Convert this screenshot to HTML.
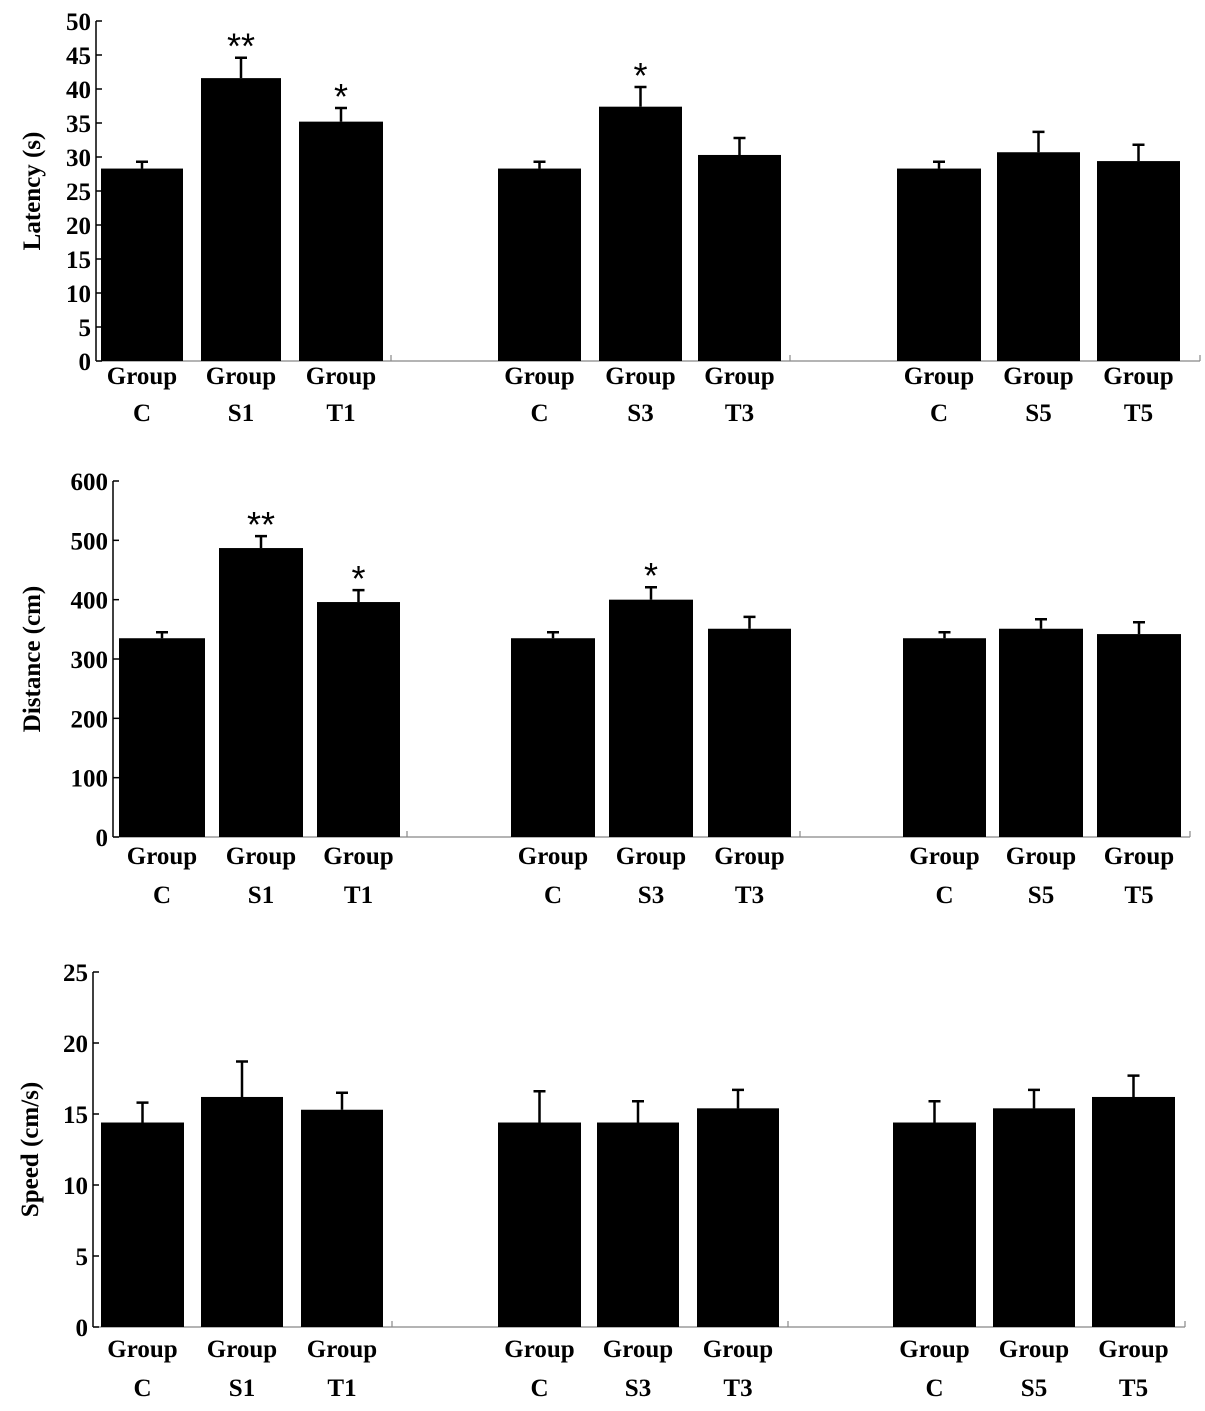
<!DOCTYPE html>
<html><head><meta charset="utf-8"><style>
body{margin:0;background:#fff;}
svg text{font-family:"Liberation Serif",serif;font-weight:bold;fill:#000;}
svg text.star{font-family:"Liberation Sans",sans-serif;font-weight:normal;}
</style></head><body>
<svg id="chart" width="1205" height="1406" viewBox="0 0 1205 1406" xmlns="http://www.w3.org/2000/svg"></svg>
<script>
const categories = ["C","S1","T1","C","S3","T3","C","S5","T5"];
const latencyValues = [28.3,41.6,35.2,28.3,37.4,30.3,28.3,30.7,29.4];
const latencyErrors = [1.0,3.0,2.0,1.0,2.9,2.5,1.0,3.0,2.4];
const distanceValues = [335,487,396,335,400,351,335,351,342];
const distanceErrors = [10,20,20,10,21,20,10,16,20];
const speedValues = [14.4,16.2,15.3,14.4,14.4,15.4,14.4,15.4,16.2];
const speedErrors = [1.4,2.5,1.2,2.2,1.5,1.3,1.5,1.3,1.5];
const latencyStars = ["","**","*","","*","","","",""];
const distanceStars = ["","**","*","","*","","","",""];
const speedStars = ["","","","","","","","",""];
const latencyTicks = [0,5,10,15,20,25,30,35,40,45,50];
const distanceTicks = [0,100,200,300,400,500,600];
const speedTicks = [0,5,10,15,20,25];

const svg = document.getElementById('chart');
const NS = "http://www.w3.org/2000/svg";
function mk(tag, attrs){const e=document.createElementNS(NS,tag);for(const k in attrs)e.setAttribute(k,attrs[k]);svg.appendChild(e);return e;}

const panels = [
 {name:"latency", vals:latencyValues, errs:latencyErrors, stars:latencyStars, ticks:latencyTicks, max:50, title:"Latency (s)",
  ax:96, y0:361, yTop:21, xEnd:1200, titleX:32,
  bars:[[101,183],[201,281],[299,383],[498,581],[599,682],[698,781],[897,981],[997,1080],[1097,1180]], sep:[391,790], lab1:384, lab2:421},
 {name:"distance", vals:distanceValues, errs:distanceErrors, stars:distanceStars, ticks:distanceTicks, max:600, title:"Distance (cm)",
  ax:113, y0:837, yTop:481, xEnd:1190, titleX:32,
  bars:[[119,205],[219,303],[317,400],[511,595],[609,693],[708,791],[903,986],[999,1083],[1097,1181]], sep:[407,800], lab1:864, lab2:903},
 {name:"speed", vals:speedValues, errs:speedErrors, stars:speedStars, ticks:speedTicks, max:25, title:"Speed (cm/s)",
  ax:93, y0:1327, yTop:972, xEnd:1185, titleX:30,
  bars:[[101,184],[201,283],[301,383],[498,581],[597,679],[697,779],[893,976],[993,1075],[1092,1175]], sep:[392,788], lab1:1357, lab2:1396}
];

panels.forEach(p=>{
  const y = v => p.y0 - (v/p.max)*(p.y0-p.yTop);
  let a = mk('line',{x1:p.ax,y1:p.yTop,x2:p.ax,y2:p.y0,stroke:'#000','stroke-width':1.5});
  
  
  a = mk('line',{x1:p.ax,y1:p.y0,x2:p.xEnd,y2:p.y0,stroke:'#888','stroke-width':1.2});
  
  
  p.sep.concat([p.xEnd]).forEach(sx=>{
    const t=mk('line',{x1:sx,y1:p.y0,x2:sx,y2:p.y0-6,stroke:'#888','stroke-width':1.2});
    
    
  });
  p.ticks.forEach(tv=>{
    const ty=y(tv);
    const l=mk('line',{x1:p.ax,y1:ty,x2:p.ax+6,y2:ty,stroke:'#000','stroke-width':1.5});
    
    
    const t=mk('text',{x:p.ax-5,y:ty+9,'text-anchor':'end','font-size':25});
    t.textContent=tv;
    
    
  });
  const tt=mk('text',{x:p.titleX,y:(p.y0+p.yTop)/2,'text-anchor':'middle','font-size':25,transform:`rotate(-90 ${p.titleX} ${(p.y0+p.yTop)/2})`,dy:8});
  tt.textContent=p.title;
  
  
  p.vals.forEach((v,i)=>{
    const [x1,x2]=p.bars[i]; const cx=(x1+x2)/2;
    const top=y(v), et=y(v+p.errs[i]);
    const r=mk('rect',{x:x1,y:top,width:x2-x1,height:p.y0-top,fill:'#000'});
    
    
    const e=mk('path',{d:`M${cx} ${top} V${et} M${cx-6} ${et} H${cx+6}`,stroke:'#000','stroke-width':2.5,fill:'none'});
    
    
    if(p.stars[i]){
      const s=mk('text',{x:cx,y:et+1,'text-anchor':'middle','font-size':36,'class':'star'});
      s.textContent=p.stars[i];
      
      
    }
    const g1=mk('text',{x:cx,y:p.lab1,'text-anchor':'middle','font-size':25});
    g1.textContent="Group";
    
    
    const g2=mk('text',{x:cx,y:p.lab2,'text-anchor':'middle','font-size':25});
    g2.textContent=categories[i];
    
    
  });
});
</script>
</body></html>
